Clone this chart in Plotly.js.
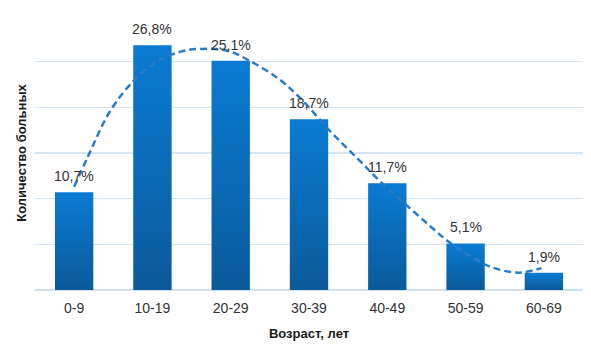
<!DOCTYPE html>
<html>
<head>
<meta charset="utf-8">
<script src="https://cdn.plot.ly/plotly-3.0.1.min.js"></script>
<style>
html,body{margin:0;padding:0;background:#fff;}
#chart{width:591px;height:356px;}
</style>
</head>
<body>
<div id="chart"></div>
<script>
// Data
var categories = ["0-9", "10-19", "20-29", "30-39", "40-49", "50-59", "60-69"];
var shares = [10.7, 26.8, 25.1, 18.7, 11.7, 5.1, 1.9];
var labels = ["10,7%", "26,8%", "25,1%", "18,7%", "11,7%", "5,1%", "1,9%"];
// Trend line (position in category units, value in %)
var trendX = [0, 0.17, 0.46, 0.76, 1.06, 1.36, 1.62, 1.96, 2.22, 2.6, 2.9, 3.28, 3.63, 3.92, 4.27, 4.56, 4.78, 5.08, 5.33, 5.68, 5.97];
var trendY = [11.3, 14.5, 19.6, 22.9, 25.0, 26.1, 26.4, 26.2, 25.2, 23.2, 20.9, 17.3, 14.3, 11.8, 9.1, 6.9, 5.3, 3.6, 2.5, 1.9, 2.4];

var idx = categories.map(function(c, i){ return i; });

var bars = {
  type: 'bar',
  x: idx,
  y: shares,
  width: 0.49,
  marker: {color: '#0A6FC2', line: {width: 0}},
  hoverinfo: 'none',
  showlegend: false
};

var trend = {
  type: 'scatter',
  mode: 'lines',
  x: trendX,
  y: trendY,
  line: {color: '#2B7BC6', width: 2.5, dash: '7px,4px', shape: 'spline', smoothing: 1},
  hoverinfo: 'none',
  showlegend: false
};

var annotations = idx.map(function(i){
  return {
    x: i, y: shares[i], xref: 'x', yref: 'y',
    text: labels[i], showarrow: false,
    yanchor: 'middle', xanchor: 'center', yshift: 16,
    font: {family: 'Liberation Sans, Arial, sans-serif', size: 14, color: '#333333'}
  };
});

var layout = {
  width: 591, height: 356,
  margin: {l: 35, r: 8, t: 16, b: 66},
  paper_bgcolor: '#ffffff',
  plot_bgcolor: '#ffffff',
  font: {family: 'Liberation Sans, Arial, sans-serif', size: 14, color: '#333333'},
  xaxis: {
    range: [-0.5, 6.5],
    tickvals: idx,
    ticktext: categories,
    showgrid: false,
    zeroline: false,
    showline: false,
    ticks: '',
    ticklabelstandoff: 8,
    tickfont: {size: 14, color: '#333333'},
    title: {text: 'Возраст, лет', font: {size: 13, color: '#1a1a1a', family: 'Liberation Sans, Arial, sans-serif', weight: 'bold'}, standoff: 13}
  },
  yaxis: {
    range: [0, 30],
    dtick: 5,
    showticklabels: false,
    showgrid: true,
    gridcolor: '#D5E5F4',
    gridwidth: 1.5,
    zeroline: true,
    zerolinecolor: '#CFE0F1',
    zerolinewidth: 2,
    showline: false,
    ticks: '',
    title: {text: 'Количество больных', font: {size: 13, color: '#1a1a1a', family: 'Liberation Sans, Arial, sans-serif', weight: 'bold'}, standoff: 4}
  },
  annotations: annotations
};

Plotly.newPlot('chart', [bars, trend], layout, {staticPlot: true}).then(function(gd){
  var svgNS = 'http://www.w3.org/2000/svg';
  var defs = gd.querySelector('svg.main-svg defs');
  if (!defs) return;
  var grad = document.createElementNS(svgNS, 'linearGradient');
  grad.setAttribute('id', 'barGrad');
  grad.setAttribute('x1', '0'); grad.setAttribute('y1', '0');
  grad.setAttribute('x2', '0'); grad.setAttribute('y2', '1');
  [['0', '#0A7BD3'], ['1', '#0B5A9A']].forEach(function(s){
    var st = document.createElementNS(svgNS, 'stop');
    st.setAttribute('offset', s[0]);
    st.setAttribute('stop-color', s[1]);
    grad.appendChild(st);
  });
  defs.appendChild(grad);
  gd.querySelectorAll('.bars .point path').forEach(function(p){
    p.style.fill = 'url(#barGrad)';
  });
});
</script>
</body>
</html>
